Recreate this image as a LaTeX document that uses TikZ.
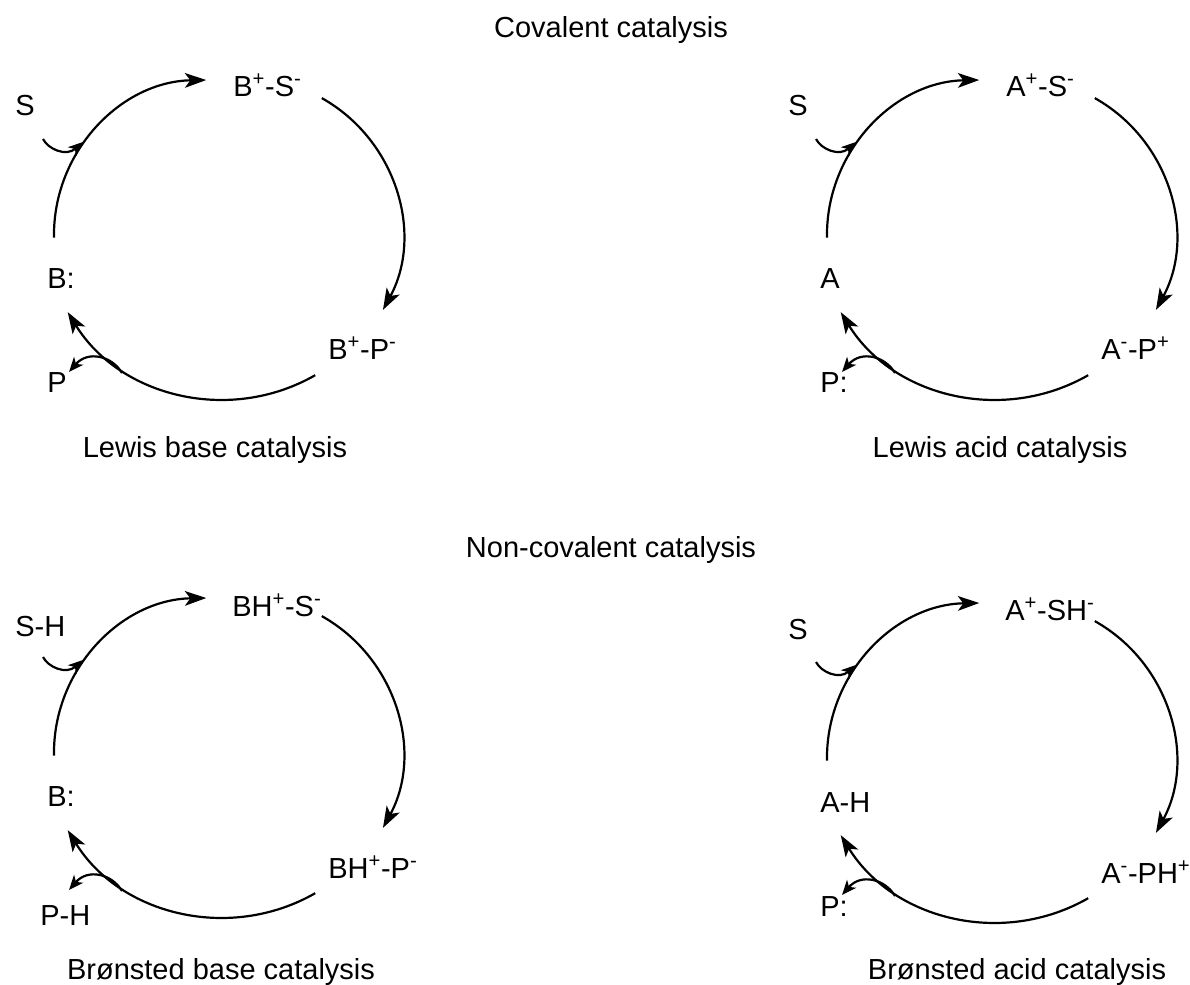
\documentclass[tikz,border=0pt]{standalone}
\usepackage{fontspec}
\setmainfont{Liberation Sans}
\usetikzlibrary{arrows.meta}

\begin{document}
\begin{tikzpicture}[x=0.75pt,y=0.75pt,yscale=-1,xscale=1,
  lbl/.style={anchor=base west,inner sep=0pt,font=\fontsize{21.75}{26}\selectfont},
  captext/.style={anchor=base,inner sep=0pt,font=\fontsize{21.75}{26}\selectfont},
  cyc/.style={line width=1.65pt,-{Stealth[length=16pt,width=11pt,inset=4pt]}},
  side/.style={line width=1.65pt,-{Stealth[length=11pt,width=9pt,inset=3pt]}}]
\useasboundingbox (0,0) rectangle (1190,985);

% Title Nodes
\node[captext] (cov) at (611,37) {Covalent catalysis};
\node[captext] (noncov) at (611,557) {Non-covalent catalysis};

%--- Lewis base cycle ---
% Text Node
\node[lbl] (lb-s) at (15,115) {S};
\node[lbl] (lb-bs) at (233,96) {B\textsuperscript{+}-S\textsuperscript{-}};
\node[lbl] (lb-b) at (47,288) {B:};
\node[lbl] (lb-bp) at (328,359) {B\textsuperscript{+}-P\textsuperscript{-}};
\node[lbl] (lb-p) at (47,392) {P};
\node[captext] (lb-cap) at (215,457) {Lewis base catalysis};
%Curve Lines
\coordinate (lb-a1) at (54,237.7);
\coordinate (lb-a2) at (321.8,98.1);
\coordinate (lb-a3) at (315.2,375.2);
\draw[cyc] (lb-a1) arc[start angle=-181,end angle=-91,radius=155];
\draw[cyc] (lb-a2) arc[start angle=-60.7,end angle=28.5,radius=157];
\draw[cyc] (lb-a3) arc[start angle=60.2,end angle=148.4,radius=183.5];
\coordinate (lb-sin) at (43,139);
\coordinate (lb-sout) at (83,142);
\draw[side] (lb-sin) .. controls (48,149) and (66,157) .. (lb-sout);
\coordinate (lb-pin) at (122,373);
\coordinate (lb-pout) at (69,372);
\draw[side] (lb-pin) .. controls (112,356) and (88,350) .. (lb-pout);

%--- Lewis acid cycle ---
% Text Node
\node[lbl] (la-s) at (788,115) {S};
\node[lbl] (la-as) at (1006,96) {A\textsuperscript{+}-S\textsuperscript{-}};
\node[lbl] (la-a) at (820,288) {A};
\node[lbl] (la-ap) at (1101,359) {A\textsuperscript{-}-P\textsuperscript{+}};
\node[lbl] (la-p) at (820,392) {P:};
\node[captext] (la-cap) at (1000,457) {Lewis acid catalysis};
%Curve Lines
\coordinate (la-a1) at (827,237.7);
\coordinate (la-a2) at (1094.8,98.1);
\coordinate (la-a3) at (1088.2,375.2);
\draw[cyc] (la-a1) arc[start angle=-181,end angle=-91,radius=155];
\draw[cyc] (la-a2) arc[start angle=-60.7,end angle=28.5,radius=157];
\draw[cyc] (la-a3) arc[start angle=60.2,end angle=148.4,radius=183.5];
\coordinate (la-sin) at (816,139);
\coordinate (la-sout) at (856,142);
\draw[side] (la-sin) .. controls (821,149) and (839,157) .. (la-sout);
\coordinate (la-pin) at (895,373);
\coordinate (la-pout) at (842,372);
\draw[side] (la-pin) .. controls (885,356) and (861,350) .. (la-pout);

%--- Bronsted base cycle ---
% Text Node
\node[lbl] (bb-s) at (15,636) {S-H};
\node[lbl] (bb-bs) at (232,616) {BH\textsuperscript{+}-S\textsuperscript{-}};
\node[lbl] (bb-b) at (47,806) {B:};
\node[lbl] (bb-bp) at (328,878) {BH\textsuperscript{+}-P\textsuperscript{-}};
\node[lbl] (bb-p) at (40,925) {P-H};
\node[captext] (bb-cap) at (221,979) {Brønsted base catalysis};
%Curve Lines
\coordinate (bb-a1) at (54,755.7);
\coordinate (bb-a2) at (321.8,616.1);
\coordinate (bb-a3) at (315.2,893.2);
\draw[cyc] (bb-a1) arc[start angle=-181,end angle=-91,radius=155];
\draw[cyc] (bb-a2) arc[start angle=-60.7,end angle=28.5,radius=157];
\draw[cyc] (bb-a3) arc[start angle=60.2,end angle=148.4,radius=183.5];
\coordinate (bb-sin) at (43,657);
\coordinate (bb-sout) at (83,660);
\draw[side] (bb-sin) .. controls (48,667) and (66,675) .. (bb-sout);
\coordinate (bb-pin) at (122,891);
\coordinate (bb-pout) at (69,890);
\draw[side] (bb-pin) .. controls (112,874) and (88,868) .. (bb-pout);

%--- Bronsted acid cycle ---
% Text Node
\node[lbl] (ba-s) at (788,639) {S};
\node[lbl] (ba-as) at (1005,620) {A\textsuperscript{+}-SH\textsuperscript{-}};
\node[lbl] (ba-a) at (820,812) {A-H};
\node[lbl] (ba-ap) at (1101,883) {A\textsuperscript{-}-PH\textsuperscript{+}};
\node[lbl] (ba-p) at (820,916) {P:};
\node[captext] (ba-cap) at (1017,979) {Brønsted acid catalysis};
%Curve Lines
\coordinate (ba-a1) at (827,760.7);
\coordinate (ba-a2) at (1094.8,621.1);
\coordinate (ba-a3) at (1088.2,898.2);
\draw[cyc] (ba-a1) arc[start angle=-181,end angle=-91,radius=155];
\draw[cyc] (ba-a2) arc[start angle=-60.7,end angle=28.5,radius=157];
\draw[cyc] (ba-a3) arc[start angle=60.2,end angle=148.4,radius=183.5];
\coordinate (ba-sin) at (816,662);
\coordinate (ba-sout) at (856,665);
\draw[side] (ba-sin) .. controls (821,672) and (839,680) .. (ba-sout);
\coordinate (ba-pin) at (895,896);
\coordinate (ba-pout) at (842,895);
\draw[side] (ba-pin) .. controls (885,879) and (861,873) .. (ba-pout);
\end{tikzpicture}
\end{document}
